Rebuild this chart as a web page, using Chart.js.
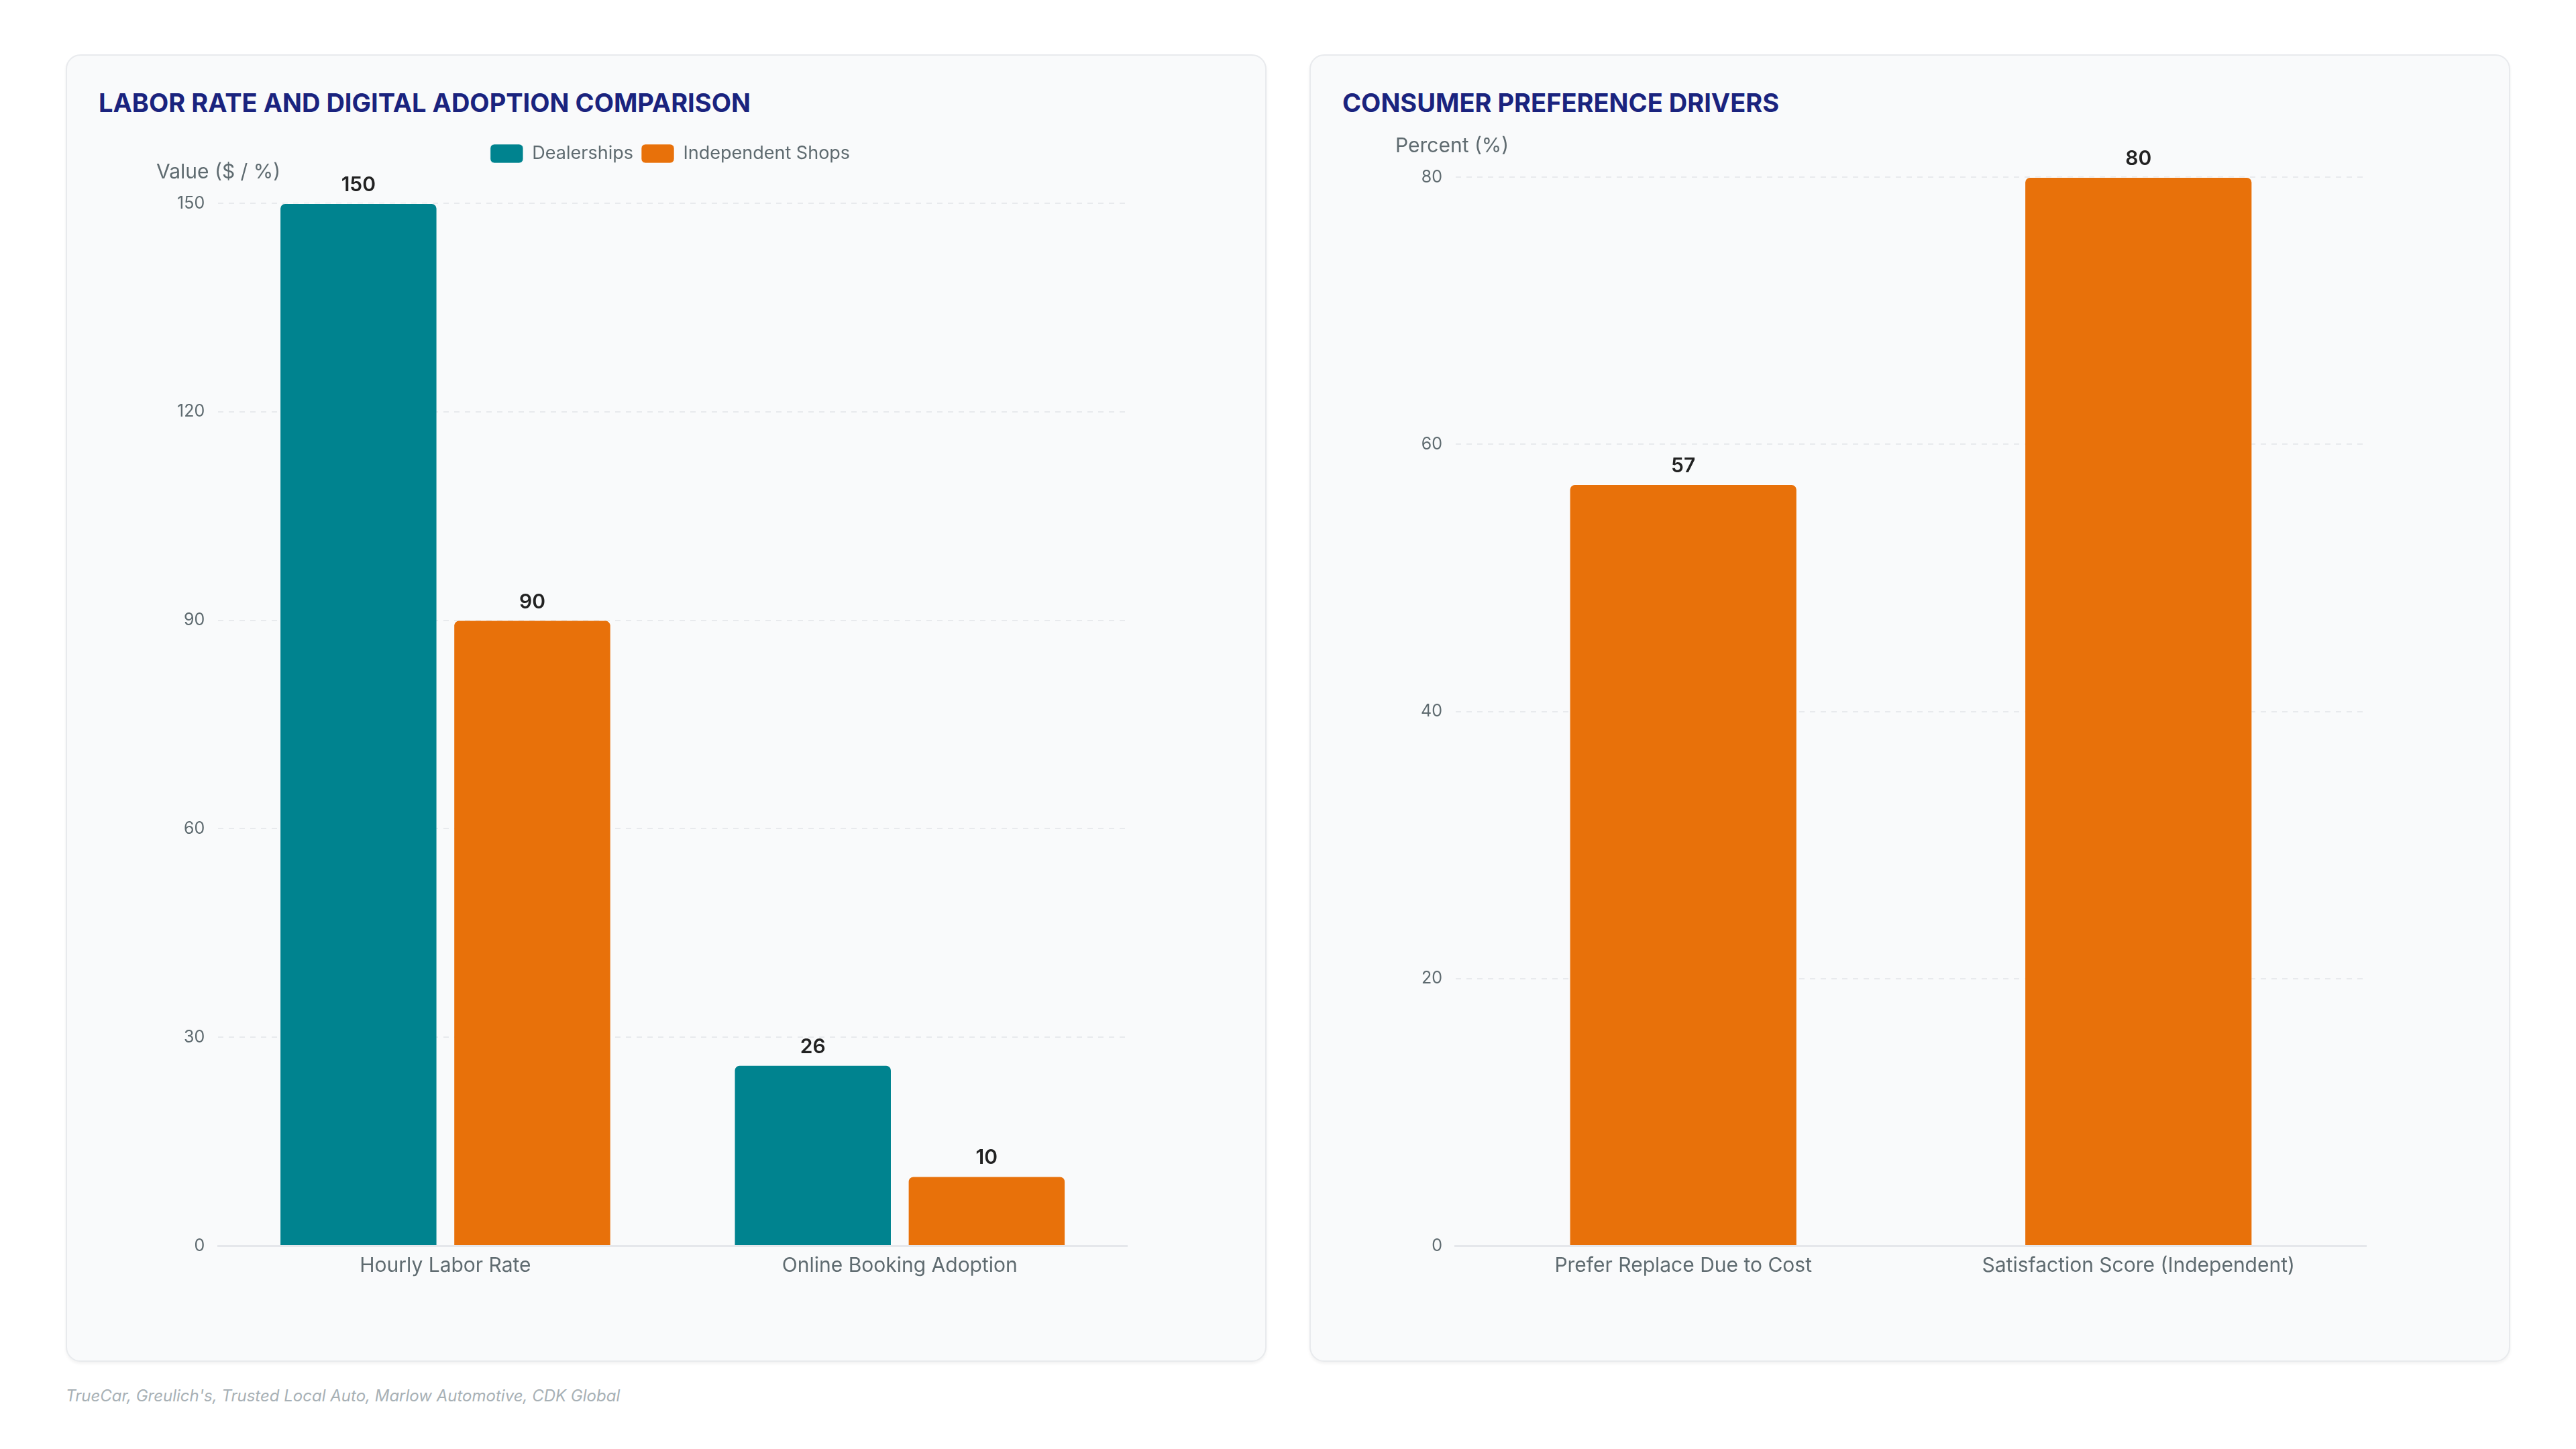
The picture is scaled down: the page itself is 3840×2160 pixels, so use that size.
<!DOCTYPE html>
<html>
<head>
<meta charset="utf-8">
<script src="https://cdn.jsdelivr.net/npm/chart.js@4.4.1/dist/chart.umd.min.js"></script>
<style>
  html, body { margin: 0; padding: 0; background: #ffffff; }
  body { width: 3840px; height: 2160px; position: relative; overflow: hidden; font-family: Inter, "Noto Sans", sans-serif; }
  .card {
    position: absolute; top: 81px; width: 1790px; height: 1949px;
    background: #f9fafb; border: 2px solid #e8eaed; border-radius: 22px;
    box-sizing: border-box; box-shadow: 0 3px 4px rgba(0,0,0,0.05);
  }
  .card h2 {
    position: absolute; left: 47px; top: 47px; margin: 0;
    font-size: 38px; font-weight: 700; color: #1a237e;
    line-height: 46px;
  }
  .chart-box { position: absolute; left: 0; top: 100px; width: 1786px; height: 1845px; }
  .source {
    position: absolute; left: 98px; top: 2066px;
    font-size: 24px; font-style: italic; color: #a7b0b5;
  }
</style>
</head>
<body>
<div class="card" style="left:98px">
  <h2>LABOR RATE AND DIGITAL ADOPTION COMPARISON</h2>
  <div class="chart-box"><canvas id="laborChart"></canvas></div>
</div>
<div class="card" style="left:1952px">
  <h2>CONSUMER PREFERENCE DRIVERS</h2>
  <div class="chart-box"><canvas id="prefChart"></canvas></div>
</div>
<div class="source">TrueCar, Greulich's, Trusted Local Auto, Marlow Automotive, CDK Global</div>

<script>
// data
const laborCategories = ['Hourly Labor Rate', 'Online Booking Adoption'];
const dealershipValues = [150, 26];
const independentValues = [90, 10];
const laborTicks = [0, 30, 60, 90, 120, 150];

const prefCategories = ['Prefer Replace Due to Cost', 'Satisfaction Score (Independent)'];
const prefValues = [57, 80];
const prefTicks = [0, 20, 40, 60, 80];

const TEAL = '#00838f';
const ORANGE = '#e8710a';
const GRAY = '#5f6b70';

Chart.defaults.font.family = 'Inter, "Noto Sans", sans-serif';
Chart.defaults.color = GRAY;
Chart.defaults.animation = false;
Chart.defaults.responsive = true;
Chart.defaults.maintainAspectRatio = false;

// value labels above the bars
const valueLabels = {
    id: 'valueLabels',
    afterDatasetsDraw(chart) {
        const ctx = chart.ctx;
        ctx.save();
        ctx.font = '600 30px Inter, "Noto Sans", sans-serif';
        ctx.fillStyle = '#222222';
        ctx.textAlign = 'center';
        ctx.textBaseline = 'middle';
        chart.data.datasets.forEach(function (ds, i) {
            chart.getDatasetMeta(i).data.forEach(function (bar, j) {
                ctx.fillText(ds.data[j], bar.x, bar.y - 27);
            });
        });
        ctx.restore();
    }
};

// y axis title written flat above the axis
const axisTitle = {
    id: 'axisTitle',
    afterDraw(chart, args, opts) {
        const ctx = chart.ctx;
        ctx.save();
        ctx.font = '30px Inter, "Noto Sans", sans-serif';
        ctx.fillStyle = GRAY;
        ctx.textAlign = 'left';
        ctx.textBaseline = 'middle';
        ctx.fillText(opts.text, chart.scales.y.left + opts.dx, chart.chartArea.top - 46);
        ctx.restore();
    }
};

// extra room under the legend, and legend nudged right
const legendSpace = {
    id: 'legendSpace',
    beforeInit(chart) {
        const fit = chart.legend.fit;
        chart.legend.fit = function () {
            fit.bind(chart.legend)();
            this.height += 50;
        };
    },
    afterLayout(chart) {
        chart.legend.left += 37;
        chart.legend.right += 37;
    }
};

function scaleOptions(ticks) {
    return {
        x: {
            grid: { display: false },
            border: { display: true, color: '#e5e7eb', width: 3 },
            ticks: { font: { size: 30 }, color: GRAY, padding: 4 }
        },
        y: {
            min: ticks[0],
            max: ticks[ticks.length - 1],
            afterBuildTicks(axis) { axis.ticks = ticks.map(v => ({ value: v })); },
            grid: { color: '#e8eaed', lineWidth: 2, drawTicks: false },
            border: { display: false, dash: [8, 8] },
            ticks: { font: { size: 25 }, color: GRAY, padding: 20 }
        }
    };
}

new Chart(document.getElementById('laborChart'), {
    type: 'bar',
    data: {
        labels: laborCategories,
        datasets: [
            {
                label: 'Dealerships',
                data: dealershipValues,
                backgroundColor: TEAL,
                borderColor: 'rgba(255,255,255,0.6)',
                borderWidth: 1,
                borderRadius: { topLeft: 8, topRight: 8 },
                borderSkipped: 'bottom',
                categoryPercentage: 0.765,
                barPercentage: 0.905
            },
            {
                label: 'Independent Shops',
                data: independentValues,
                backgroundColor: ORANGE,
                borderColor: 'rgba(255,255,255,0.6)',
                borderWidth: 1,
                borderRadius: { topLeft: 8, topRight: 8 },
                borderSkipped: 'bottom',
                categoryPercentage: 0.765,
                barPercentage: 0.905
            }
        ]
    },
    options: {
        layout: { padding: { left: 144, right: 206, top: 20, bottom: 119 } },
        scales: scaleOptions(laborTicks),
        plugins: {
            legend: {
                position: 'top',
                labels: {
                    boxWidth: 49, boxHeight: 28, useBorderRadius: true, borderRadius: 6,
                    padding: 12, color: GRAY, font: { size: 27 }
                }
            },
            tooltip: { enabled: false },
            axisTitle: { text: 'Value ($ / %)', dx: -11 }
        }
    },
    plugins: [valueLabels, axisTitle, legendSpace]
});

new Chart(document.getElementById('prefChart'), {
    type: 'bar',
    data: {
        labels: prefCategories,
        datasets: [
            {
                label: 'Independent Shops',
                data: prefValues,
                backgroundColor: ORANGE,
                borderColor: 'rgba(255,255,255,0.6)',
                borderWidth: 1,
                borderRadius: { topLeft: 8, topRight: 8 },
                borderSkipped: 'bottom',
                categoryPercentage: 0.8,
                barPercentage: 0.625
            }
        ]
    },
    options: {
        layout: { padding: { left: 144, right: 213, top: 81, bottom: 119 } },
        scales: scaleOptions(prefTicks),
        plugins: {
            legend: { display: false },
            tooltip: { enabled: false },
            axisTitle: { text: 'Percent (%)', dx: -18 }
        }
    },
    plugins: [valueLabels, axisTitle]
});
</script>
</body>
</html>
